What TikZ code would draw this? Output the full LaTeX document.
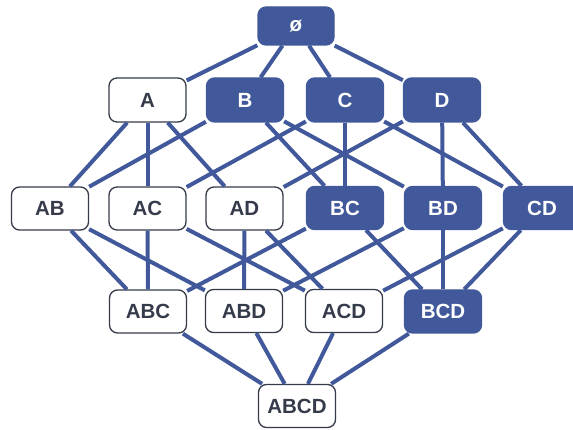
\documentclass[tikz,border=0pt]{standalone}
\usepackage{fontspec}
\setmainfont{Liberation Sans}
\definecolor{lat}{HTML}{41599A}
\definecolor{ink}{HTML}{353B4A}
\begin{document}
\begin{tikzpicture}[x=1pt,y=-1pt,
  setbox/.style={rounded corners=8pt, minimum width=77pt, minimum height=43pt, inner sep=0pt, font=\bfseries\fontsize{20.5}{22}\selectfont},
  onbox/.style={setbox, fill=lat, draw=lat, line width=1.3pt, text=white},
  offbox/.style={setbox, fill=white, draw=ink, line width=1.3pt, text=ink},
  link/.style={draw=lat, line width=4pt}]
\useasboundingbox (0,0) rectangle (573,430);
\node[onbox, minimum width=76pt, minimum height=38pt] (e) at (296,26) {ø};
\node[offbox, minimum height=44pt] (A) at (147.5,100) {A};
\node[onbox, minimum height=44pt] (B) at (245,100) {B};
\node[onbox, minimum height=44pt] (C) at (345,100) {C};
\node[onbox, minimum height=44pt] (D) at (442,100) {D};
\node[offbox] (AB) at (50,208.5) {AB};
\node[offbox] (AC) at (147.5,208.5) {AC};
\node[offbox] (AD) at (244.5,208.5) {AD};
\node[onbox] (BC) at (345,208) {BC};
\node[onbox] (BD) at (443,208) {BD};
\node[onbox] (CD) at (542,208) {CD};
\node[offbox] (ABC) at (148,311.5) {ABC};
\node[offbox] (ABD) at (244,311) {ABD};
\node[offbox] (ACD) at (344,311) {ACD};
\node[onbox] (BCD) at (443,311.5) {BCD};
\node[offbox] (ABCD) at (297,406) {ABCD};
\foreach \a/\b in {e/A,e/B,e/C,e/D,
  A/AB,A/AC,A/AD,B/AB,B/BC,B/BD,C/AC,C/BC,C/CD,D/AD,D/BD,D/CD,
  AB/ABC,AB/ABD,AC/ABC,AC/ACD,AD/ABD,AD/ACD,BC/ABC,BC/BCD,BD/ABD,BD/BCD,CD/ACD,CD/BCD,
  ABC/ABCD,ABD/ABCD,ACD/ABCD,BCD/ABCD}
  \draw[link] (\a) -- (\b);
\end{tikzpicture}
\end{document}
